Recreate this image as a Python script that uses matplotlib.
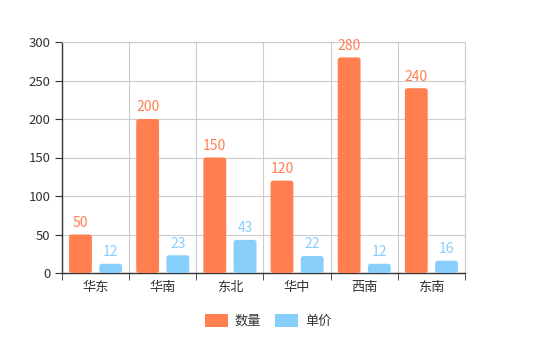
import numpy as np
import matplotlib
matplotlib.use("Agg")
import matplotlib.pyplot as plt
from matplotlib.patches import FancyBboxPatch, Patch

plt.rcParams["font.family"] = ["Noto Sans CJK SC", "DejaVu Sans"]

# -----------------------------
# Data
# -----------------------------
categories = ["华东", "华南", "东北", "华中", "西南", "东南"]
quantity = [50, 200, 150, 120, 280, 240]
unit_price = [12, 23, 43, 22, 12, 16]
series_names = ["数量", "单价"]
colors = ["#FF7F50", "#87CEFA"]

fig = plt.figure(figsize=(5.37, 3.59), dpi=100)
ax = fig.add_axes([62 / 537, 86 / 359, 403 / 537, 231 / 359])

x = np.arange(len(categories))
width = 0.34
offset = 0.225

ax.set_xlim(-0.5, len(categories) - 0.5)
ax.set_ylim(0, 300)

bars1 = ax.bar(x - offset, quantity, width, color=colors[0], zorder=3)
bars2 = ax.bar(x + offset, unit_price, width, color=colors[1], zorder=3)

# swap the plain bars for ones with slightly rounded corners
aspect = (300 / 231) / (6 / 403)
for bars, color in [(bars1, colors[0]), (bars2, colors[1])]:
    for b in bars:
        b.set_visible(False)
        rb = FancyBboxPatch((b.get_x(), b.get_y()), b.get_width(), b.get_height(),
                            boxstyle="round,pad=0,rounding_size=0.04",
                            mutation_aspect=aspect, facecolor=color,
                            edgecolor="none", zorder=3)
        ax.add_patch(rb)
        h = b.get_height()
        ax.text(b.get_x() + b.get_width() / 2, h + 6, str(int(h)),
                ha="center", va="bottom", color=color, fontsize=10)

ax.set_yticks(range(0, 301, 50))
ax.set_xticks(x)
ax.set_xticklabels(categories)
ax.set_xticks(np.arange(-0.5, len(categories), 1), minor=True)

ax.grid(axis="y", color="#cccccc", linewidth=0.8, zorder=0)
ax.grid(axis="x", which="minor", color="#cccccc", linewidth=0.8, zorder=0)
ax.tick_params(axis="x", which="major", length=0, labelsize=9.5, colors="#333333", pad=6)
ax.tick_params(axis="x", which="minor", length=5, color="#333333", direction="out")
ax.tick_params(axis="y", length=5, labelsize=9.5, colors="#333333")

for s in ["top", "right"]:
    ax.spines[s].set_color("#cccccc")
    ax.spines[s].set_linewidth(0.8)
for s in ["left", "bottom"]:
    ax.spines[s].set_color("#333333")
    ax.spines[s].set_linewidth(1.0)

handles = [Patch(facecolor=c, edgecolor="none") for c in colors]
fig.legend(handles, series_names, loc="center", bbox_to_anchor=(268 / 537, 1 - 321 / 359),
           ncol=2, frameon=False, fontsize=9.5, handlelength=1.8, handleheight=1.1,
           columnspacing=1.0, handletextpad=0.5, labelcolor="#333333")

fig.savefig("out.png", dpi=100)
